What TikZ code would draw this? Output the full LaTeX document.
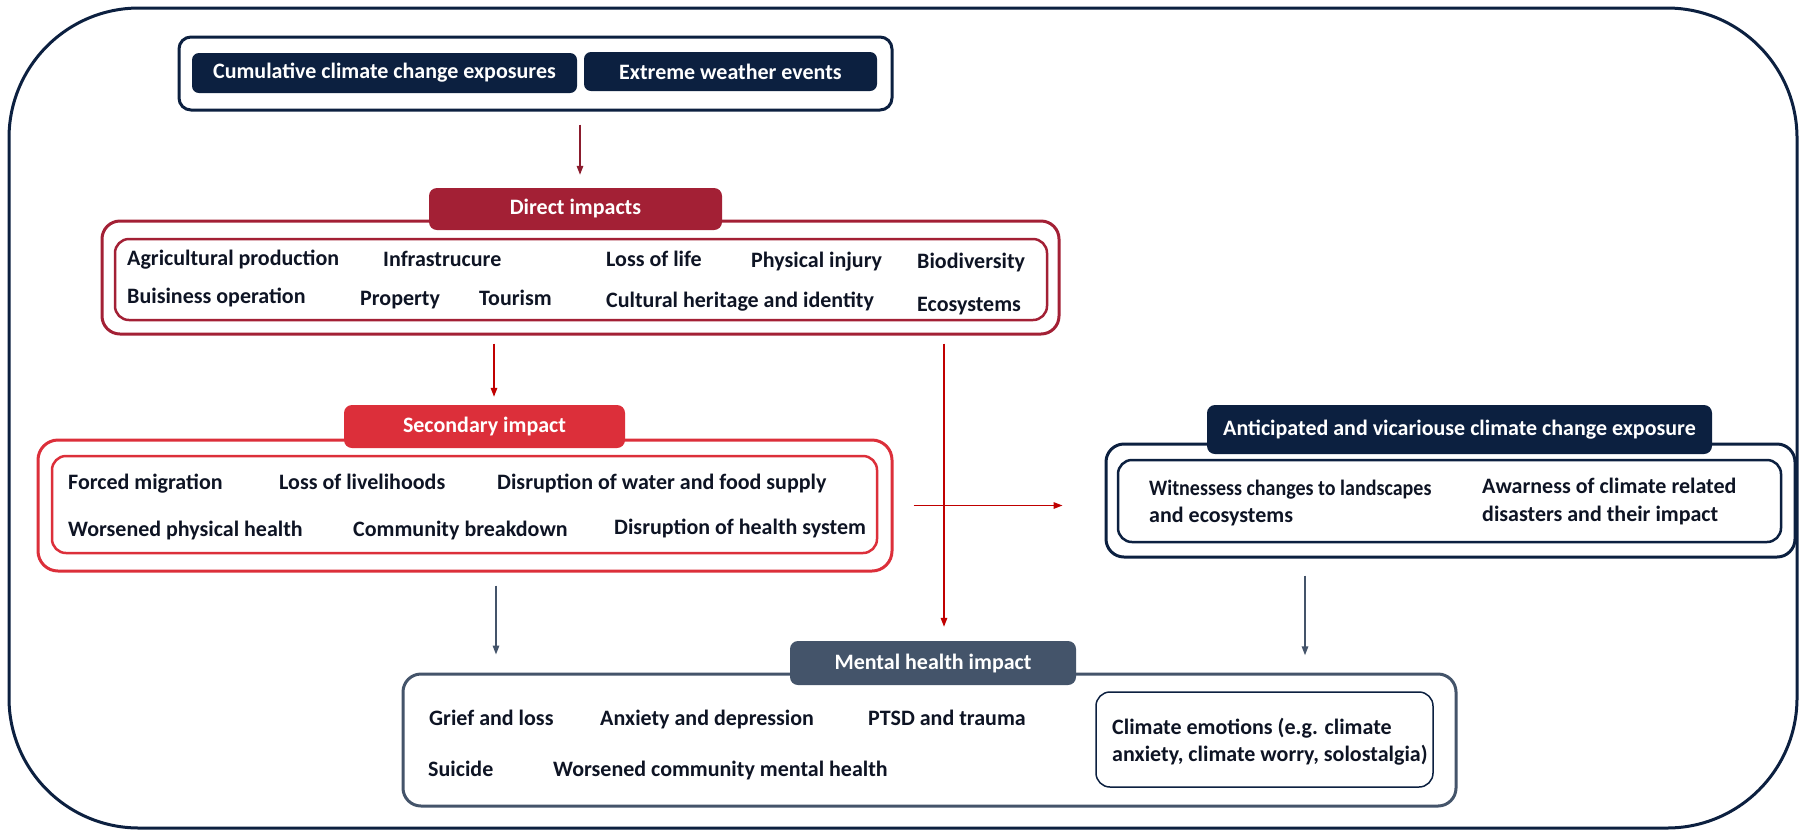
\documentclass[tikz,border=0pt]{standalone}
\usepackage{fontspec}
\setmainfont{Carlito}
\usetikzlibrary{arrows.meta}
\definecolor{navy}{RGB}{12,32,64}
\definecolor{dred}{RGB}{163,32,53}
\definecolor{sred}{RGB}{220,47,58}
\definecolor{slate}{RGB}{68,84,106}
\definecolor{ink}{RGB}{14,20,36}
\definecolor{maroon}{RGB}{139,27,45}
\definecolor{arrred}{RGB}{192,0,0}
\begin{document}
\begin{tikzpicture}[x=1pt,y=-1pt,
  box/.style={draw, rounded corners=#1, inner sep=0pt, fill=white},
  head/.style={fill=#1, rounded corners=8pt, inner sep=0pt, text=white,
    font=\bfseries\fontsize{22}{26}\selectfont},
  lbl/.style={anchor=west, inner sep=0pt, text=ink, text height=15pt, text depth=4pt,
    font=\bfseries\fontsize{22}{26}\selectfont},
  arr/.style={draw=#1, line width=1.5pt, -{Triangle[length=9pt,width=6.5pt]}},
]
\useasboundingbox (0,0) rectangle (1803,831);

% outer frame
\node[box=130pt, draw=navy, line width=3pt, minimum width=1788pt, minimum height=820pt] (frame) at (903,418) {};

% exposures
\node[box=12pt, draw=navy, line width=3pt, minimum width=713pt, minimum height=73pt] (top) at (535.5,73.5) {};
\node[head=navy, rounded corners=7pt, minimum width=385pt, minimum height=40pt] (cum) at (384.5,73) {Cumulative climate change exposures};
\node[head=navy, rounded corners=7pt, minimum width=293pt, minimum height=39pt] (ext) at (730.5,71.5) {Extreme weather events};

% direct impacts
\node[box=18pt, draw=dred, line width=3pt, minimum width=957pt, minimum height=113pt] (dirout) at (580.5,277.5) {};
\node[box=14pt, draw=dred, line width=2.5pt, minimum width=932pt, minimum height=81pt] (dirin) at (581,279.5) {};
\node[head=dred, minimum width=293pt, minimum height=42pt] (dirhead) at (575.5,209) {Direct impacts};
\node[lbl] (d1) at (127,260) {Agricultural production};
\node[lbl] (d2) at (383,261) {Infrastrucure};
\node[lbl] (d3) at (606,261) {Loss of life};
\node[lbl] (d4) at (751,262) {Physical injury};
\node[lbl] (d5) at (917,263) {Biodiversity};
\node[lbl] (d6) at (127,298) {Buisiness operation};
\node[lbl] (d7) at (360,300) {Property};
\node[lbl] (d8) at (479,300) {Tourism};
\node[lbl] (d9) at (606,302) {Cultural heritage and identity};
\node[lbl] (d10) at (917,306) {Ecosystems};

% secondary impact
\node[box=20pt, draw=sred, line width=3pt, minimum width=854pt, minimum height=131pt] (secout) at (465,505.5) {};
\node[box=14pt, draw=sred, line width=2.5pt, minimum width=825pt, minimum height=97pt] (secin) at (464.5,504.5) {};
\node[head=sred, minimum width=281pt, minimum height=43pt] (sechead) at (484.5,426.5) {Secondary impact};
\node[lbl] (s1) at (68,484) {Forced migration};
\node[lbl] (s2) at (279,484) {Loss of livelihoods};
\node[lbl] (s3) at (497,484) {Disruption of water and food supply};
\node[lbl] (s4) at (68,531) {Worsened physical health};
\node[lbl] (s5) at (353,531) {Community breakdown};
\node[lbl] (s6) at (614,529) {Disruption of health system};

% anticipated and vicarious exposure
\node[box=18pt, draw=navy, line width=3pt, minimum width=689pt, minimum height=113pt] (antout) at (1450.5,500.5) {};
\node[box=14pt, draw=navy, line width=2.5pt, minimum width=663pt, minimum height=82pt] (antin) at (1449.5,501) {};
\node[head=navy, minimum width=505pt, minimum height=49pt] (anthead) at (1459.5,429.5) {Anticipated and vicariouse climate change exposure};
\node[lbl] (a1) at (1149,490) {\scalebox{0.91}[1]{Witnessess changes to landscapes}};
\node[lbl] (a2) at (1149,517) {and ecosystems};
\node[lbl] (a3) at (1482,488) {Awarness of climate related};
\node[lbl] (a4) at (1482,516) {disasters and their impact};

% mental health impact
\node[box=18pt, draw=slate, line width=3pt, minimum width=1053pt, minimum height=132pt] (mhout) at (929.5,740) {};
\node[box=14pt, draw=navy, line width=1.5pt, minimum width=337pt, minimum height=95pt] (emo) at (1264.5,739.5) {};
\node[head=slate, minimum width=286pt, minimum height=44pt] (mhhead) at (933,663) {Mental health impact};
\node[lbl] (m1) at (429,720) {Grief and loss};
\node[lbl] (m2) at (600,720) {Anxiety and depression};
\node[lbl] (m3) at (868,720) {PTSD and trauma};
\node[lbl] (m4) at (428,771) {Suicide};
\node[lbl] (m5) at (553,771) {Worsened community mental health};
\node[lbl] (e1) at (1112,729) {Climate emotions (e.g. climate};
\node[lbl] (e2) at (1112,756) {anxiety, climate worry, solostalgia)};

% connectors
\draw[arr=maroon, shorten <=13pt, shorten >=13pt] ([xshift=44.5pt]top.south) -- ([xshift=4.5pt]dirhead.north);
\draw[arr=arrred, shorten <=8pt, shorten >=8pt] ([xshift=-86.5pt]dirout.south) -- ([xshift=9.5pt]sechead.north);
\draw[arr=arrred, shorten <=8pt, shorten >=14pt] ([xshift=363.5pt]dirout.south) -- ([xshift=11pt]mhhead.north);
\draw[arr=arrred, shorten <=20pt, shorten >=42pt] (secout.east) -- (antout.west |- secout.east);
\draw[arr=slate, shorten <=13pt, shorten >=18pt] ([xshift=31pt]secout.south) -- ([xshift=31pt]secout.south |- mhout.north);
\draw[arr=slate, shorten <=17pt, shorten >=36pt] ([xshift=-145.5pt]antout.south) -- ([xshift=40.5pt]emo.north);
\end{tikzpicture}
\end{document}
